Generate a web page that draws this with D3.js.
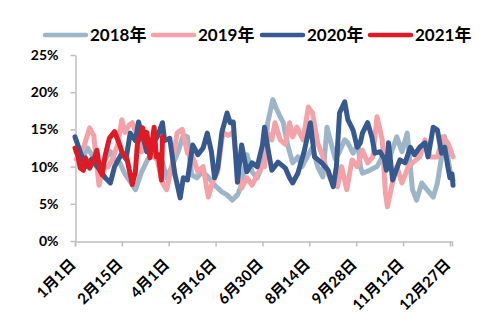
<!DOCTYPE html>
<html><head><meta charset="utf-8">
<script src="https://cdn.jsdelivr.net/npm/d3@7"></script>
<style>body{margin:0;background:#fff}svg{display:block}text{font-family:Lato,"Noto Sans CJK SC",sans-serif;font-weight:bold;fill:#000}</style>
</head><body>
<script>
const seriesNames = ["2018年","2019年","2020年","2021年"];
const seriesColors = ["#9DB5C9","#F4A2A7","#36598E","#E01A24"];
const yTicks = [0,5,10,15,20,25];
const xTickDays = [0,45,90,135,180,225,270,315,360];
const xTickLabels = ["1月1日","2月15日","4月1日","5月16日","6月30日","8月14日","9月28日","11月12日","12月27日"];

const days2018 = [1,7,12,19,24,29,34,38,43,48,53,58,64,70,75,80,84,88,93,99,104,108,112,117,122,128,134,141,146,151,156,160,165,170,175,180,182,185,190,194,197,200,204,209,214,218,223,228,233,238,242,245,250,254,259,262,267,272,274,276,283,290,295,300,304,309,314,319,324,328,333,338,344,348,352,355,360,363];
const vals2018 = [12,11,12.5,11,10,11,12,11,10.5,9,8,6.9,9.3,11,12,11.5,10.6,8.5,10,12,14.2,14,8.9,8.5,9.3,8.6,7.5,6.6,6.2,5.5,6.2,7.5,11.6,9.3,8.5,10.2,11.3,15.9,19,17.6,16.7,15.9,13,10.5,11.3,10,11.3,12.6,10,8.6,15.3,13.6,11,12,13.6,13.2,11.8,13,10,9.1,9.5,10,11.3,10,12,14,12,14.5,6.9,5.5,7.8,6.9,5.9,7.8,11.3,14,9.5,8.2];

const days2019 = [1,5,9,14,18,23,27,32,36,41,45,48,52,55,60,64,69,74,79,84,88,93,98,103,108,113,118,123,128,132,137,142,147,152,156,160,165,170,175,180,182,185,189,192,197,202,206,209,213,219,224,228,233,238,243,247,252,256,261,266,271,276,281,286,290,295,298,300,304,309,314,320,324,331,336,341,348,353,358,363];
const vals2019 = [11,11.6,12.9,15.2,14.2,7.5,9.8,10,11,13,16.3,14.6,15.6,15.9,14,12,12.5,11.5,10.9,7.8,6.9,10,14.5,15,11.8,11.3,9.3,10,5.9,7.9,9.3,14.6,14.2,14.6,9.8,7.1,8.5,7.5,8.9,10.2,10,14.5,13.6,15.9,13.6,13,15.9,14,15.3,13.6,18,17.2,13.2,11.3,9,7.8,7.3,10,6.9,10.9,10,12.2,10.5,11.3,16.7,13.6,6.5,4.6,7.3,10,7.8,10,10.5,11.3,13.6,11.3,11.3,14,13.2,11.3];

const days2020 = [0,5,10,16,24,29,34,38,45,49,53,58,61,65,69,74,79,84,86,91,96,101,104,108,113,118,123,127,131,134,137,141,146,149,152,156,160,165,170,175,180,182,185,189,195,202,206,209,214,220,226,230,237,243,248,251,254,259,262,267,271,274,276,281,285,288,293,297,299,301,305,312,317,322,326,331,336,339,344,348,352,355,358,360,362,363];
const vals2020 = [14,12,10,11,9.5,8.5,7.8,10,11.8,11,14.5,13.5,16,14,12,13,14,15.9,13.5,13.8,8.9,5.8,8.5,8.2,12.9,11.6,12.5,14.5,12,8.5,9.8,14.6,17.2,15.9,16,7.9,12.9,9.3,10.5,10,12.9,15.3,12.6,9.5,10.6,9.8,8.5,7.8,9.1,12,15.9,11.3,10.5,9.5,7.3,10,17.2,18.7,16.3,14.9,12.6,13.2,14.5,15.9,14,11.8,12,11,9.5,13.2,8.2,10.9,10.5,12.6,11.6,12.6,13.2,11.3,15.3,14.9,11.8,12.6,10,8.5,9,7.5];

const days2021 = [0,3,5,8,10,14,18,21,24,26,29,33,38,43,45,50,55,58,60,62,65,68,69,72,76,78,80,83,84];
const vals2021 = [12.5,11.3,9.8,9.5,11.2,9.8,10.9,12.2,9.5,8.9,11.5,13.8,14.7,12.9,12,11,7.6,9.3,13.2,13.8,15.2,13,14.6,11.2,15.3,11.3,11.6,8.2,14];

const allDays = [days2018, days2019, days2020, days2021];
const allVals = [vals2018, vals2019, vals2020, vals2021];

const W = 498, H = 333;
const svg = d3.select("body").append("svg").attr("width", W).attr("height", H);
const x = d3.scaleLinear().domain([0, 362]).range([75, 452]);
const y = d3.scaleLinear().domain([0, 25]).range([241, 55]);

// axes
const yAxis = svg.append("g").attr("transform", "translate(75.5,0)")
  .call(d3.axisLeft(y).tickValues(yTicks).tickSize(5).tickSizeOuter(0).tickPadding(12).tickFormat(d => d + "%"));
yAxis.selectAll("text").style("font-size", "14px");
const xAxis = svg.append("g").attr("transform", "translate(0,241.5)")
  .call(d3.axisBottom(x).tickValues(xTickDays).tickSize(5).tickSizeOuter(5).tickFormat((d, i) => xTickLabels[i]));
xAxis.selectAll("text").style("font-size", "15px")
  .attr("text-anchor", "end").attr("dy", null).attr("y", 0)
  .attr("transform", "translate(1,24) rotate(-45)");
svg.selectAll(".domain").attr("stroke", "#BFBFBF").attr("stroke-width", 1.5);
svg.selectAll(".tick line").attr("stroke", "#BFBFBF").attr("stroke-width", 1.5);

// lines
const line = d3.line().x(d => x(d[0])).y(d => y(d[1]));
allDays.forEach((ds, i) => {
  const pts = ds.map((d, j) => [d, allVals[i][j]]);
  svg.append("path").attr("d", line(pts)).attr("fill", "none")
    .attr("stroke", seriesColors[i]).attr("stroke-width", 5)
    .attr("stroke-linejoin", "round").attr("stroke-linecap", "round");
});

// legend
const legendX = [45, 153, 262, 370];
seriesNames.forEach((n, i) => {
  const g = svg.append("g").attr("transform", `translate(${legendX[i]},35)`);
  g.append("line").attr("x1", 0).attr("x2", 41).attr("y1", 0).attr("y2", 0)
    .attr("stroke", seriesColors[i]).attr("stroke-width", 4.5).attr("stroke-linecap", "round");
  g.append("text").attr("x", 45).attr("y", 6).style("font-size", "17px").text(n);
});
</script>
</body></html>
